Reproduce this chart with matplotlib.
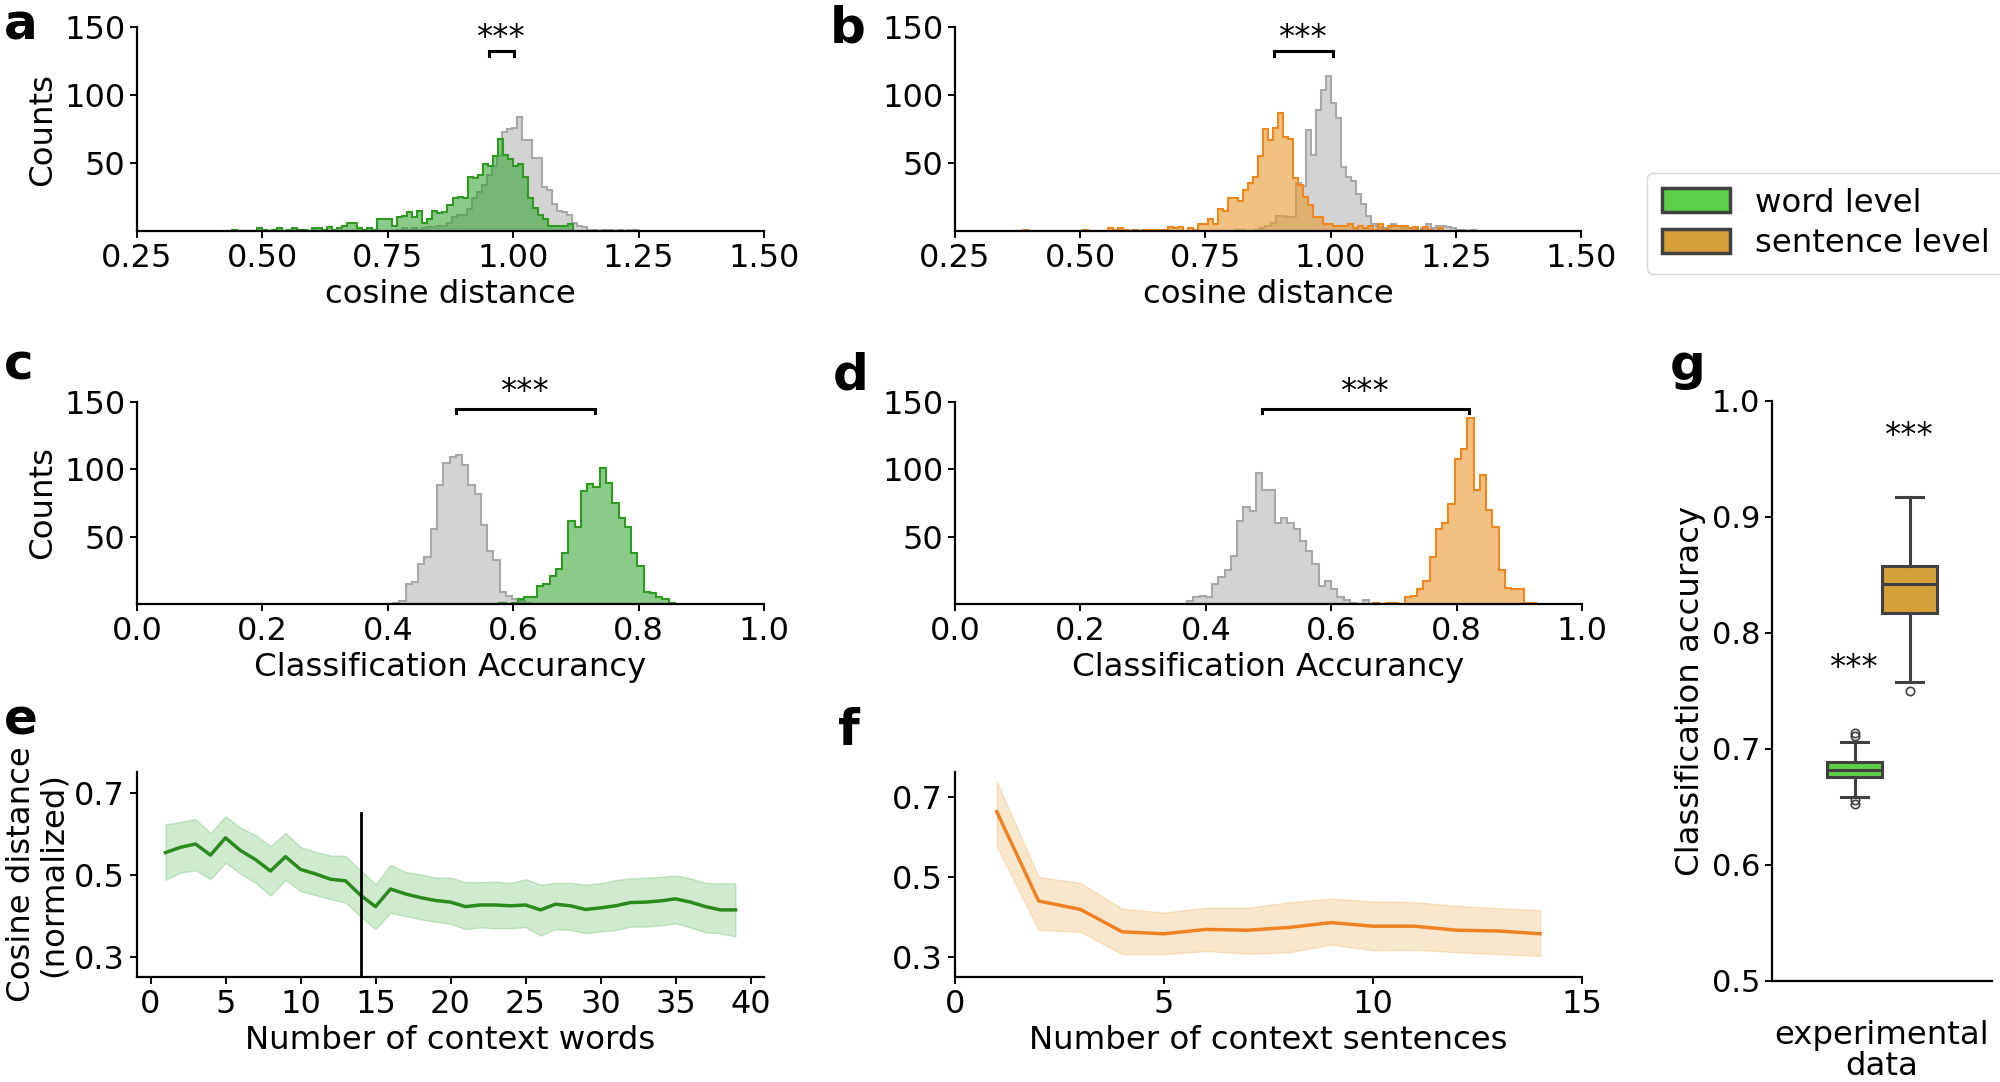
import numpy as np
import matplotlib
matplotlib.use("Agg")
import matplotlib.pyplot as plt
from matplotlib.patches import Patch

plt.rcParams['font.family'] = ['DejaVu Sans']

# ---------------- data ----------------
BIN_W = 0.01
# panel a : cosine distance, word level vs shuffled (gray)
a_green_start = 0.439
a_green_counts = [1,0,0,0,0,2,1,0,1,2,0,1,2,1,1,0,2,2,1,3,1,2,
                  4,6,6,2,1,2,1,9,9,9,4,10,11,14,10,15,6,9,15,13,14,19,24,25,24,
                  40,39,41,49,48,55,68,56,53,48,49,40,24,17,12,9,4,4,4,4,5]
a_gray_start = 0.768
a_gray_counts = [1,2,1,2,1,2,3,3,4,4,6,10,12,12,16,24,29,34,41,48,55,73,75,76,84,
                 67,67,54,54,32,30,20,15,14,12,6,4,3,1,1,0,1,1,0,1,0,1,1]
# panel b : cosine distance, sentence level vs shuffled
b_orange_start = 0.385
b_orange_counts = [1,0,0,0,0,0,0,0,0,0,0,0,1,0,0,0,0,2,1,2,1,0,1,0,1,1,1,1,1,
                   3,2,3,0,2,1,5,5,9,5,16,15,24,24,22,30,35,40,55,75,67,76,87,
                   69,68,39,34,25,19,10,10,5,5,4,4,4,5,2,4,2,4,1,5,1,4,4,4,4,2,3,0,3,1,0,2]
b_gray_start = 0.81
b_gray_counts = [1,1,0,0,1,2,4,6,11,11,10,10,35,33,74,56,89,104,114,94,83,47,40,37,27,
                 20,11,5,3,2,2,5,4,2,2,2,0,2,5,2,4,4,3,2,1,1,0,1]
# panel c : classification accuracy, word level
c_gray_start = 0.4085
c_gray_counts = [1,2,15,16,30,35,56,88,105,109,111,103,88,82,59,39,33,9,6,4,2,1]
c_green_start = 0.578
c_green_counts = [1,0,1,4,5,5,13,15,21,26,38,62,57,84,89,87,101,90,75,64,57,38,28,9,8,5,4,1]
# panel d : classification accuracy, sentence level
d_gray_start = 0.370
d_gray_counts = [2,5,6,5,15,20,25,36,62,72,69,97,85,85,60,64,60,56,47,39,30,13,17,11,5,3,1,0,3]
d_orange_start = 0.667
d_orange_counts = [1,0,1,1,0,5,6,11,17,35,56,60,74,108,115,138,85,96,70,57,25,12,11,11,1,1]

# panel e : context words
e_x = list(range(1, 40))
e_mean = [0.554,0.567,0.575,0.548,0.590,0.559,0.537,0.509,0.544,0.513,0.502,0.489,0.485,
          0.450,0.422,0.465,0.453,0.444,0.437,0.433,0.422,0.426,0.426,0.424,0.426,0.414,
          0.428,0.424,0.415,0.419,0.424,0.432,0.433,0.436,0.441,0.433,0.422,0.414,0.414]
e_upper = [0.623,0.629,0.636,0.602,0.643,0.615,0.597,0.570,0.602,0.568,0.556,0.547,0.546,
           0.511,0.477,0.524,0.507,0.501,0.493,0.493,0.482,0.482,0.483,0.480,0.489,0.476,
           0.480,0.480,0.476,0.479,0.487,0.491,0.493,0.495,0.498,0.491,0.480,0.479,0.479]
e_lower = [0.487,0.505,0.511,0.489,0.529,0.503,0.480,0.449,0.487,0.460,0.450,0.440,0.432,
           0.398,0.367,0.407,0.399,0.391,0.385,0.380,0.367,0.371,0.369,0.369,0.372,0.351,
           0.367,0.365,0.357,0.361,0.365,0.373,0.373,0.376,0.381,0.371,0.359,0.357,0.349]
e_cutoff = 14
e_cutoff_top = 0.651

# panel f : context sentences
f_x = list(range(1, 15))
f_mean = [0.663,0.440,0.419,0.363,0.358,0.369,0.367,0.374,0.386,0.377,0.377,0.367,0.365,0.358]
f_upper = [0.739,0.500,0.485,0.421,0.411,0.423,0.423,0.437,0.446,0.439,0.437,0.428,0.422,0.417]
f_lower = [0.578,0.368,0.363,0.307,0.307,0.315,0.308,0.312,0.331,0.317,0.318,0.312,0.307,0.303]

# panel g : box plot stats
g_labels = ["word level", "sentence level"]
g_med = [0.682, 0.842]
g_q1 = [0.676, 0.817]
g_q3 = [0.689, 0.858]
g_whislo = [0.659, 0.758]
g_whishi = [0.706, 0.917]
g_fliers = [[0.711, 0.714, 0.653, 0.656], [0.750]]

# ---------------- styles ----------------
GRAY_FC = '#d3d3d3'
GRAY_EC = '#a8a8a8'
GREEN_FC = (0.17, 0.63, 0.17, 0.55)
GREEN_EC = '#2f9a22'
ORANGE_FC = (0.90, 0.60, 0.18, 0.60)
ORANGE_EC = '#f0861e'
BOX_GREEN = '#5dd04a'
BOX_ORANGE = '#d4a037'
BOX_EDGE = '#404040'
FS = 23.3
TFS = 23

W, H = 2000, 1082
fig = plt.figure(figsize=(W / 100, H / 100), dpi=100)


def axrect(l, t, r, b):
    return [l / W, 1 - b / H, (r - l) / W, (b - t) / H]


def style(ax, tfs=TFS):
    for s in ['top', 'right']:
        ax.spines[s].set_visible(False)
    for s in ['left', 'bottom']:
        ax.spines[s].set_linewidth(1.6)
    ax.tick_params(labelsize=tfs, width=1.4, length=5)


def hist(ax, start, counts, fc, ec, lw=1.5):
    counts = np.asarray(counts, dtype=float)
    edges = start + BIN_W * np.arange(len(counts) + 1)
    ax.hist(edges[:-1], bins=edges, weights=counts, histtype='stepfilled',
            facecolor=fc, edgecolor=ec, linewidth=lw)


def bracket(ax, x1, x2, y, h, text, ty):
    ax.plot([x1, x1, x2, x2], [y - h, y, y, y - h], color='black', lw=2.2,
            clip_on=False, solid_joinstyle='miter')
    ax.text((x1 + x2) / 2, ty, text, ha='center', va='center', fontsize=FS,
            clip_on=False)


# panel a
ax = fig.add_axes(axrect(137, 27, 764, 231))
hist(ax, a_gray_start, a_gray_counts, GRAY_FC, GRAY_EC)
hist(ax, a_green_start, a_green_counts, GREEN_FC, GREEN_EC)
ax.set_xlim(0.25, 1.5)
ax.set_ylim(0, 150)
ax.set_xticks([0.25, 0.5, 0.75, 1.0, 1.25, 1.5])
ax.set_yticks([50, 100, 150])
ax.set_xlabel('cosine distance', fontsize=FS)
ax.set_ylabel('Counts', fontsize=FS)
style(ax)
bracket(ax, 0.952, 1.002, 132, 3, '***', 142)

# panel b
ax = fig.add_axes(axrect(955, 27, 1581, 231))
hist(ax, b_gray_start, b_gray_counts, GRAY_FC, GRAY_EC)
hist(ax, b_orange_start, b_orange_counts, ORANGE_FC, ORANGE_EC)
ax.set_xlim(0.25, 1.5)
ax.set_ylim(0, 150)
ax.set_xticks([0.25, 0.5, 0.75, 1.0, 1.25, 1.5])
ax.set_yticks([50, 100, 150])
ax.set_xlabel('cosine distance', fontsize=FS)
style(ax)
bracket(ax, 0.887, 1.005, 132, 3, '***', 142)

# panel c
ax = fig.add_axes(axrect(137, 402, 764, 604))
hist(ax, c_gray_start, c_gray_counts, GRAY_FC, GRAY_EC)
hist(ax, c_green_start, c_green_counts, GREEN_FC, GREEN_EC)
ax.set_xlim(0, 1)
ax.set_ylim(0, 150)
ax.set_xticks([0, 0.2, 0.4, 0.6, 0.8, 1.0])
ax.set_yticks([50, 100, 150])
ax.set_xlabel('Classification Accurancy', fontsize=FS)
ax.set_ylabel('Counts', fontsize=FS)
style(ax)
bracket(ax, 0.509, 0.730, 145, 3, '***', 158)

# panel d
ax = fig.add_axes(axrect(955, 402, 1582, 604))
hist(ax, d_gray_start, d_gray_counts, GRAY_FC, GRAY_EC)
hist(ax, d_orange_start, d_orange_counts, ORANGE_FC, ORANGE_EC)
ax.set_xlim(0, 1)
ax.set_ylim(0, 150)
ax.set_xticks([0, 0.2, 0.4, 0.6, 0.8, 1.0])
ax.set_yticks([50, 100, 150])
ax.set_xlabel('Classification Accurancy', fontsize=FS)
style(ax)
bracket(ax, 0.489, 0.819, 145, 3, '***', 158)

# panel e
ax = fig.add_axes(axrect(137, 772, 764, 977))
ax.fill_between(e_x, e_lower, e_upper, color='#2ca02c', alpha=0.22, lw=1)
ax.plot(e_x, e_mean, color='#2a8a1e', lw=2.5)
ax.set_ylim(0.25, 0.751)
ax.set_xlim(-0.9, 40.9)
ax.axvline(e_cutoff, ymin=0, ymax=(e_cutoff_top - 0.25) / (0.751 - 0.25),
           color='black', lw=2)
ax.set_xticks(range(0, 41, 5))
ax.set_yticks([0.3, 0.5, 0.7])
ax.set_xlabel('Number of context words', fontsize=FS)
ax.set_ylabel('Cosine distance\n(normalized)', fontsize=FS, linespacing=1.05)
style(ax)

# panel f
ax = fig.add_axes(axrect(955, 772, 1582, 977))
ax.fill_between(f_x, f_lower, f_upper, color='#e8a13a', alpha=0.25, lw=1)
ax.plot(f_x, f_mean, color='#f08224', lw=2.5)
ax.set_ylim(0.25, 0.7625)
ax.set_xlim(0, 15)
ax.set_xticks([0, 5, 10, 15])
ax.set_yticks([0.3, 0.5, 0.7])
ax.set_xlabel('Number of context sentences', fontsize=FS)
style(ax)

# panel g
ax = fig.add_axes(axrect(1772, 401, 1992, 981))
stats = []
for i in range(2):
    stats.append(dict(med=g_med[i], q1=g_q1[i], q3=g_q3[i], whislo=g_whislo[i],
                      whishi=g_whishi[i], fliers=g_fliers[i], label=g_labels[i]))
bp = ax.bxp(stats, positions=[-0.125, 0.125], widths=0.25, capwidths=0.125,
            patch_artist=True,
            boxprops=dict(edgecolor=BOX_EDGE, linewidth=2.2),
            medianprops=dict(color=BOX_EDGE, linewidth=2.2),
            whiskerprops=dict(color=BOX_EDGE, linewidth=2.2),
            capprops=dict(color=BOX_EDGE, linewidth=2.2),
            flierprops=dict(marker='o', markerfacecolor='none',
                            markeredgecolor=BOX_EDGE, markersize=6,
                            markeredgewidth=1.2))
for patch, c in zip(bp['boxes'], [BOX_GREEN, BOX_ORANGE]):
    patch.set_facecolor(c)
ax.set_xlim(-0.5, 0.5)
ax.set_ylim(0.5, 1.0)
ax.set_yticks([0.5, 0.6, 0.7, 0.8, 0.9, 1.0])
ax.set_xticks([])
ax.set_xlabel('experimental\ndata', fontsize=FS, labelpad=28, linespacing=1.0)
ax.set_ylabel('Classification accuracy', fontsize=FS)
style(ax, tfs=22)
ax.text(0.125, 0.970, '***', ha='center', va='center', fontsize=FS)
ax.text(-0.125, 0.770, '***', ha='center', va='center', fontsize=FS)

# legend
handles = [Patch(facecolor=BOX_GREEN, edgecolor=BOX_EDGE, linewidth=2.5, label='word level'),
           Patch(facecolor=BOX_ORANGE, edgecolor=BOX_EDGE, linewidth=2.5, label='sentence level')]
fig.legend(handles=handles, loc='upper left', bbox_to_anchor=(1647 / W, 1 - 173 / H),
           fontsize=FS, frameon=True, borderaxespad=0, handlelength=2.1,
           handleheight=0.75, handletextpad=0.8, labelspacing=0.3, borderpad=0.45)

# panel letters
letters = [('a', 0.002, 0.9635), ('b', 0.415, 0.961), ('c', 0.002, 0.649),
           ('d', 0.4165, 0.640), ('e', 0.002, 0.321), ('f', 0.419, 0.311),
           ('g', 0.835, 0.649)]
for t, x, y in letters:
    fig.text(x, y, t, fontsize=36, fontweight='bold', ha='left', va='baseline')

fig.savefig('out.png', dpi=100)
